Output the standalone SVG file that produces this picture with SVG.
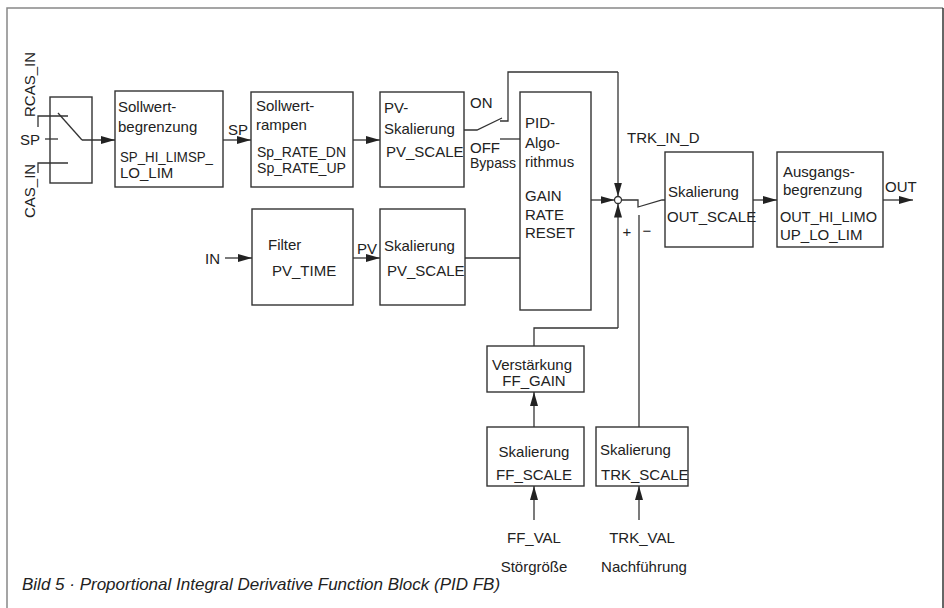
<svg xmlns="http://www.w3.org/2000/svg" width="944" height="608" viewBox="0 0 944 608">
<defs>
<marker id="arr" markerUnits="userSpaceOnUse" markerWidth="15" markerHeight="9" refX="14" refY="4" orient="auto">
<path d="M0,0 L14,4 L0,8 z" fill="#222"/>
</marker>
<style>
.box{fill:#fff;stroke:#333;stroke-width:1.4}
.ln{fill:none;stroke:#333;stroke-width:1.3}
.ar{fill:none;stroke:#333;stroke-width:1.3;marker-end:url(#arr)}
text{font-family:"Liberation Sans",Arial,sans-serif;font-size:15px;fill:#222}
.cap{font-style:italic;font-size:17px}
.mid{text-anchor:middle}
</style>
</defs>
<rect width="944" height="608" fill="#fff"/>
<g id="frame">
<path d="M7,608 L7,8 L943,8" fill="none" stroke="#888" stroke-width="1.5"/>
<path d="M943,8 L943,608" fill="none" stroke="#333" stroke-width="1.5"/>
</g>

<g id="inputs">
<text transform="translate(35,117) rotate(-90)">RCAS_IN</text>
<text x="20" y="145">SP</text>
<text transform="translate(35,218) rotate(-90)">CAS_IN</text>
</g>

<g id="switch">
<rect class="box" x="50" y="97" width="42" height="86"/>
<path class="ln" d="M38,127 L38,116 L68,116"/>
<path class="ln" d="M45,139 L58,139"/>
<path class="ln" d="M38,173 L38,163 L68,163"/>
<path class="ln" d="M58,113 L82,140"/>
</g>

<g id="sollwertbegrenzung">
<rect class="box" x="115" y="91" width="108" height="96"/>
<text x="118" y="112">Sollwert-</text>
<text x="118" y="132">begrenzung</text>
<text x="120" y="162" textLength="93" lengthAdjust="spacingAndGlyphs">SP_HI_LIMSP_</text>
<text x="120" y="178">LO_LIM</text>
</g>

<g id="sollwertrampen">
<rect class="box" x="251" y="92" width="102" height="95"/>
<text x="256" y="111">Sollwert-</text>
<text x="256" y="130">rampen</text>
<text x="257" y="157" textLength="89" lengthAdjust="spacingAndGlyphs">Sp_RATE_DN</text>
<text x="257" y="173" textLength="89" lengthAdjust="spacingAndGlyphs">Sp_RATE_UP</text>
</g>

<g id="pv-skalierung-sp">
<rect class="box" x="380" y="92" width="84" height="95"/>
<text x="384" y="113">PV-</text>
<text x="384" y="134">Skalierung</text>
<text x="386" y="157">PV_SCALE</text>
</g>

<g id="filter">
<rect class="box" x="252" y="209" width="101" height="96"/>
<text x="268" y="250">Filter</text>
<text x="272" y="276">PV_TIME</text>
</g>

<g id="pv-skalierung">
<rect class="box" x="380" y="209" width="85" height="96"/>
<text x="384" y="251">Skalierung</text>
<text x="387" y="276">PV_SCALE</text>
</g>

<g id="pid">
<rect class="box" x="520" y="92" width="71" height="218"/>
<text x="525" y="128">PID-</text>
<text x="525" y="148">Algo-</text>
<text x="525" y="167">rithmus</text>
<text x="525" y="201">GAIN</text>
<text x="525" y="220">RATE</text>
<text x="525" y="238">RESET</text>
</g>

<g id="out-scale">
<rect class="box" x="665" y="152" width="88" height="95"/>
<text x="668" y="197">Skalierung</text>
<text x="667" y="222">OUT_SCALE</text>
</g>

<g id="ausgangsbegrenzung">
<rect class="box" x="777" y="152" width="106" height="95"/>
<text x="783" y="177">Ausgangs-</text>
<text x="783" y="195">begrenzung</text>
<text x="780" y="222" textLength="97" lengthAdjust="spacingAndGlyphs">OUT_HI_LIMO</text>
<text x="780" y="240">UP_LO_LIM</text>
</g>

<g id="verstaerkung">
<rect class="box" x="487" y="346" width="97" height="46"/>
<text class="mid" x="532" y="370">Verstärkung</text>
<text class="mid" x="534" y="386">FF_GAIN</text>
</g>

<g id="ff-scale">
<rect class="box" x="487" y="427" width="97" height="59"/>
<text class="mid" x="534" y="457">Skalierung</text>
<text class="mid" x="534" y="480">FF_SCALE</text>
</g>

<g id="trk-scale">
<rect class="box" x="596" y="427" width="92" height="59"/>
<text x="600" y="455">Skalierung</text>
<text x="601" y="480">TRK_SCALE</text>
</g>

<g id="junction">
<circle cx="618" cy="200" r="3.5" fill="#fff" stroke="#333" stroke-width="1.3"/>
</g>

<g id="connectors">
<path class="ar" d="M82,140 L115,140"/>
<path class="ar" d="M223,140 L251,140"/>
<path class="ar" d="M353,140 L380,140"/>
<path class="ln" d="M464,130 L477,130 L502,118"/>
<path class="ln" d="M500,121 L508,121 L508,72 L618,72"/>
<path class="ar" d="M618,72 L618,196.5"/>
<path class="ln" d="M500,139 L520,139"/>
<path class="ar" d="M225,258 L252,258"/>
<path class="ar" d="M353,258 L380,258"/>
<path class="ln" d="M465,258 L520,258"/>
<path class="ar" d="M591,200 L614.5,200"/>
<path class="ln" d="M621.5,200 L638,200 L638,207 L662,200 L665,200"/>
<path class="ar" d="M753,200 L777,200"/>
<path class="ar" d="M883,200 L913,200"/>
<path class="ln" d="M534,346 L534,328 L618,328"/>
<path class="ar" d="M618,328 L618,203.5"/>
<path class="ln" d="M639,427 L639,215"/>
<path class="ar" d="M534,427 L534,392"/>
<path class="ar" d="M534,520 L534,486"/>
<path class="ar" d="M639,520 L639,486"/>
</g>

<g id="labels">
<text x="228" y="135">SP</text>
<text x="470" y="108">ON</text>
<text x="470" y="153">OFF</text>
<text x="470" y="168" textLength="46" lengthAdjust="spacingAndGlyphs">Bypass</text>
<text x="205" y="264">IN</text>
<text x="357" y="254">PV</text>
<text x="627" y="143">TRK_IN_D</text>
<text class="mid" x="627" y="237">+</text>
<text class="mid" x="647" y="236">−</text>
<text x="885" y="192">OUT</text>
<text class="mid" x="534" y="543">FF_VAL</text>
<text class="mid" x="534" y="572">Störgröße</text>
<text class="mid" x="642" y="543">TRK_VAL</text>
<text class="mid" x="644" y="572">Nachführung</text>
</g>

<text class="cap" x="22" y="590">Bild 5 · Proportional Integral Derivative Function Block (PID FB)</text>
</svg>
